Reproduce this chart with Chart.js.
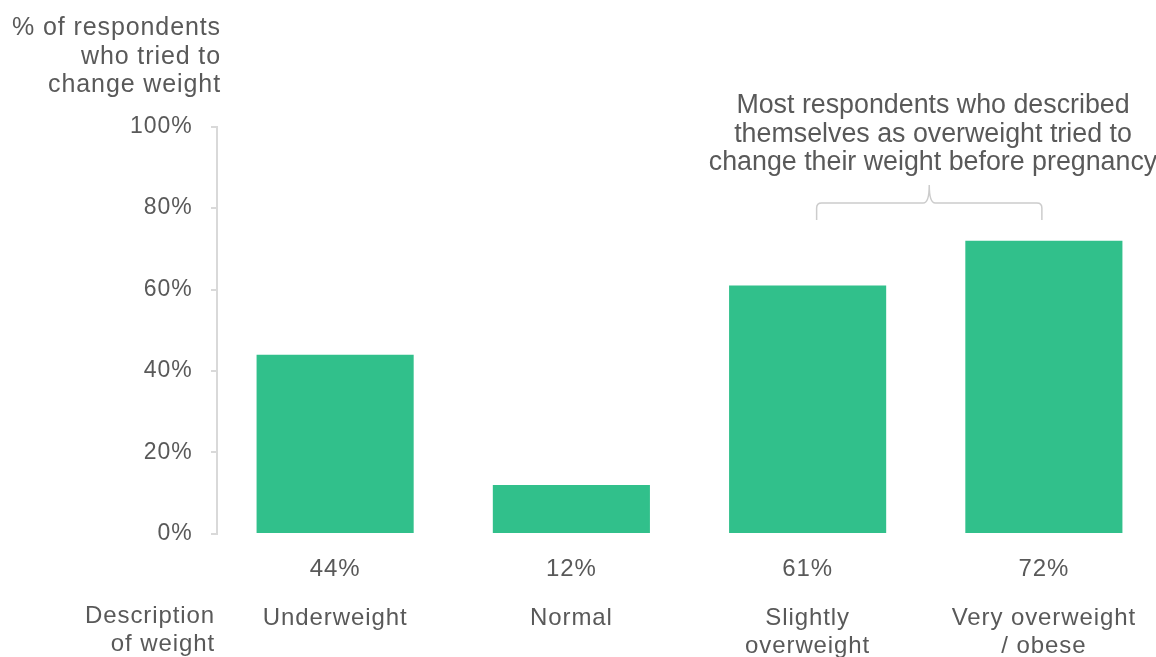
<!DOCTYPE html>
<html>
<head>
<meta charset="utf-8">
<script src="https://cdn.jsdelivr.net/npm/chart.js@4/dist/chart.umd.min.js"></script>
<style>
  html, body { margin: 0; padding: 0; background: #ffffff; overflow: hidden; width: 1156px; height: 657px; }
  #wrap { width: 1162px; height: 657px; position: relative; }
</style>
</head>
<body>
<div id="wrap"><canvas id="c"></canvas></div>
<script>
const categories = [['Underweight'], ['Normal'], ['Slightly', 'overweight'], ['Very overweight', '/ obese']];
const values = [44, 12, 61, 72];
const yAxisTitle = ['% of respondents', 'who tried to', 'change weight'];
const xAxisTitle = ['Description', 'of weight'];
const noteLines = ['Most respondents who described', 'themselves as overweight tried to', 'change their weight before pregnancy'];

const TEXT = '#595959';
const FONT = '"Liberation Sans", Arial, sans-serif';
const SPACING = '0.9px';

Chart.defaults.font.family = FONT;
Chart.defaults.color = TEXT;

const spacingPlugin = {
  id: 'spacing',
  beforeUpdate(chart) { chart.ctx.letterSpacing = SPACING; },
  beforeDraw(chart) { chart.ctx.letterSpacing = SPACING; }
};

const annotations = {
  id: 'annotations',
  afterDraw(chart) {
    const ctx = chart.ctx;
    const xs = chart.scales.x;
    ctx.save();
    ctx.letterSpacing = SPACING;
    ctx.fillStyle = TEXT;
    // y axis title (top-left, right aligned)
    ctx.font = '25px ' + FONT;
    ctx.textAlign = 'right';
    ctx.textBaseline = 'alphabetic';
    yAxisTitle.forEach((t, i) => ctx.fillText(t, 221, 35 + i * 28.7));
    // x axis title (bottom-left)
    ctx.font = '24px ' + FONT;
    ctx.textBaseline = 'middle';
    xAxisTitle.forEach((t, i) => ctx.fillText(t, 215, 616 + i * 28));
    // note text
    ctx.letterSpacing = '0px';
    ctx.font = '26.8px ' + FONT;
    ctx.textAlign = 'center';
    ctx.textBaseline = 'alphabetic';
    noteLines.forEach((t, i) => ctx.fillText(t, 933, 113 + i * 28.5));
    // brace over the two overweight bars
    const l = xs.getPixelForValue(2) + 9;
    const r = xs.getPixelForValue(3) - 2;
    const m = (l + r) / 2;
    const yb = 220, yh = 203, yp = 185;
    ctx.strokeStyle = '#cccccc';
    ctx.lineWidth = 1.5;
    ctx.beginPath();
    ctx.moveTo(l, yb);
    ctx.lineTo(l, yh + 5);
    ctx.quadraticCurveTo(l, yh, l + 5, yh);
    ctx.lineTo(m - 6, yh);
    ctx.quadraticCurveTo(m, yh, m, yp);
    ctx.quadraticCurveTo(m, yh, m + 6, yh);
    ctx.lineTo(r - 5, yh);
    ctx.quadraticCurveTo(r, yh, r, yh + 5);
    ctx.lineTo(r, yb);
    ctx.stroke();
    ctx.restore();
  }
};

new Chart(document.getElementById('c'), {
  type: 'bar',
  data: {
    labels: categories.map(c => c.join(' ')),
    datasets: [{
      data: values,
      backgroundColor: '#31c08b',
      borderWidth: 0,
      barPercentage: 0.665,
      categoryPercentage: 1
    }]
  },
  options: {
    responsive: true,
    maintainAspectRatio: false,
    animation: false,
    events: [],
    layout: { padding: { top: 126.7, left: 0, right: 0, bottom: -3.5 } },
    plugins: { legend: { display: false }, tooltip: { enabled: false }, title: { display: false } },
    scales: {
      y: {
        min: 0, max: 100,
        afterFit(s) { s.width = 217; },
        ticks: { stepSize: 20, padding: 18.5, font: { size: 23 }, color: TEXT, callback: v => v + '%' },
        grid: { display: true, drawOnChartArea: false, drawTicks: true, tickLength: 6, color: '#d9d9d9', lineWidth: 2 },
        border: { display: true, color: '#d9d9d9', width: 2 }
      },
      x: {
        position: 'bottom',
        weight: 0,
        offset: true,
        grid: { display: false, drawTicks: false },
        border: { display: false },
        ticks: {
          padding: 20.8,
          maxRotation: 0,
          autoSkip: false,
          font: { size: 24, lineHeight: 1.2 },
          color: TEXT,
          callback: (v, i) => values[i] + '%'
        }
      },
      x2: {
        type: 'category',
        position: 'bottom',
        weight: 1,
        labels: categories,
        offset: true,
        grid: { display: false, drawTicks: false },
        border: { display: false },
        ticks: {
          padding: 0.1,
          maxRotation: 0,
          autoSkip: false,
          font: { size: 24, lineHeight: '28px' },
          color: TEXT
        }
      }
    }
  },
  plugins: [spacingPlugin, annotations]
});
</script>
</body>
</html>
